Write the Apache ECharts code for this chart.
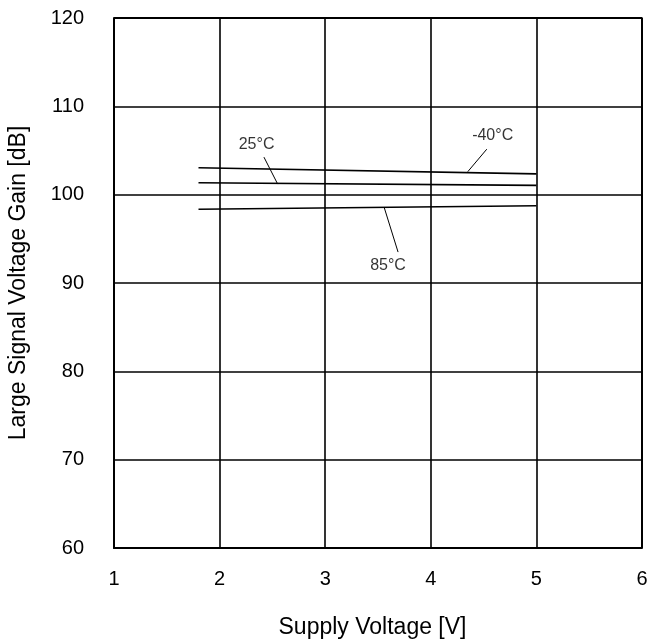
<!DOCTYPE html>
<html>
<head>
<meta charset="utf-8">
<script src="https://cdn.jsdelivr.net/npm/echarts@6/dist/echarts.min.js"></script>
<style>
  html, body { margin: 0; padding: 0; background: #fff; }
  #chart { width: 651px; height: 643px; }
</style>
</head>
<body>
<div id="chart"></div>
<script>
// supply voltage endpoints of each curve
const voltage = [1.8, 5.0];
// gain per temperature [dB]
const gainMinus40 = [103.05, 102.35];
const gain25 = [101.35, 101.05];
const gain85 = [98.35, 98.75];

const xTicks = [1, 2, 3, 4, 5, 6];
const yTicks = [60, 70, 80, 90, 100, 110, 120];

// annotation labels, label centre, leader start and end
const labelNames = ["25°C", "-40°C", "85°C"];
const labelPos = [[2.35, 105.64], [4.586, 106.66], [3.595, 91.92]];
const leaderFrom = [[2.42, 104.25], [4.53, 105.15], [3.56, 98.5]];
const leaderTo = [[2.55, 101.2], [4.35, 102.6], [3.69, 93.5]];

const chart = echarts.init(document.getElementById("chart"));
const font = "Liberation Sans, Arial, sans-serif";

const curve = (name, ys) => ({
  name: name,
  type: "line",
  data: voltage.map((v, i) => [v, ys[i]]),
  symbol: "none",
  lineStyle: { color: "#000", width: 1.6 },
  silent: true,
  z: 3,
});

const leaders = labelNames.map((n, i) => ({
  name: n + " leader",
  type: "line",
  data: [leaderFrom[i], leaderTo[i]],
  symbol: "none",
  lineStyle: { color: "#000", width: 1 },
  silent: true,
  z: 3,
}));

chart.setOption({
  animation: false,
  backgroundColor: "#fff",
  grid: {
    left: 114,
    right: 9,
    top: 18,
    bottom: 95,
    show: false,
    containLabel: false,
    outerBoundsMode: "none",
  },
  xAxis: {
    type: "value",
    min: xTicks[0],
    max: xTicks[xTicks.length - 1],
    interval: 1,
    name: "Supply Voltage [V]",
    nameLocation: "middle",
    nameGap: 68,
    nameTextStyle: { fontFamily: font, fontSize: 23, color: "#000", padding: [0, 11, 0, 0] },
    axisLine: { show: true, onZero: false, lineStyle: { color: "#000", width: 2 } },
    axisTick: { show: false },
    axisLabel: { fontFamily: font, fontSize: 20, color: "#000", margin: 21 },
    splitLine: { show: true, lineStyle: { color: "#000", width: 1.6 } },
  },
  yAxis: {
    type: "value",
    min: yTicks[0],
    max: yTicks[yTicks.length - 1],
    interval: 10,
    name: "Large Signal Voltage Gain [dB]",
    nameLocation: "middle",
    nameGap: 84,
    nameTextStyle: { fontFamily: font, fontSize: 23, color: "#000" },
    axisLine: { show: true, lineStyle: { color: "#000", width: 2 } },
    axisTick: { show: false },
    axisLabel: { fontFamily: font, fontSize: 20, color: "#000", margin: 30 },
    splitLine: { show: true, lineStyle: { color: "#000", width: 1.6 } },
  },
  series: [
    curve("-40°C", gainMinus40),
    curve("25°C", gain25),
    curve("85°C", gain85),
    ...leaders,
    {
      name: "labels",
      type: "scatter",
      symbolSize: 0,
      data: labelNames.map((n, i) => ({ name: n, value: labelPos[i] })),
      label: {
        show: true,
        position: "inside",
        formatter: (p) => p.name,
        fontFamily: font,
        fontSize: 16,
        color: "#000",
      },
      silent: true,
      z: 4,
    },
    {
      // right and top frame edges
      name: "frame",
      type: "line",
      data: [[1, 120], [6, 120], [6, 60]],
      symbol: "none",
      lineStyle: { color: "#000", width: 2 },
      silent: true,
      z: 2,
    },
  ],
});
</script>
</body>
</html>
